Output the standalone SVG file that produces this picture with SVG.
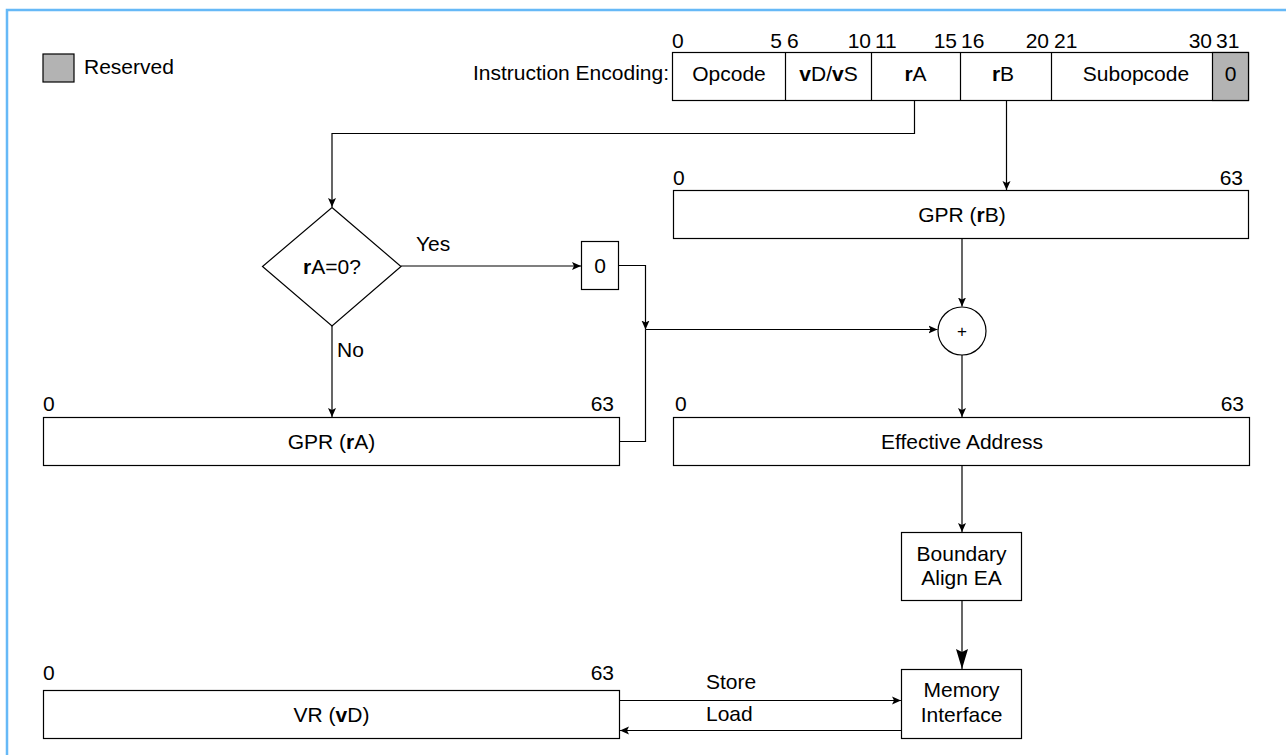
<svg xmlns="http://www.w3.org/2000/svg" width="1286" height="755" viewBox="0 0 1286 755">
<style>
text{font-family:"Liberation Sans",Arial,Helvetica,sans-serif;font-size:21px;fill:#000}
.c{text-anchor:middle}
.e{text-anchor:end}
.box{fill:#fff;stroke:#000;stroke-width:1.2}
.res{fill:#b3b3b3;stroke:#000;stroke-width:1.2}
.ln{fill:none;stroke:#000;stroke-width:1.2}
.b{font-weight:bold}
</style>
<defs>
<marker id="ah" markerWidth="10" markerHeight="10" refX="9" refY="5" orient="auto" markerUnits="userSpaceOnUse">
<path d="M0,1 L9,5 L0,9 L2,5 Z" fill="#000"/>
</marker>
<marker id="ahb" markerWidth="21" markerHeight="14" refX="20" refY="7" orient="auto" markerUnits="userSpaceOnUse" viewBox="0 0 21 14">
<path d="M0,1 L20,7 L0,13 L3,7 Z" fill="#000"/>
</marker>
</defs>
<rect width="1286" height="755" fill="#fff"/>
<path d="M7,755 V10 H1286" fill="none" stroke="#66b9f7" stroke-width="2.5"/>

<g id="legend">
<rect class="res" x="43" y="54" width="31" height="28"/>
<text x="84" y="74">Reserved</text>
</g>

<g id="encoding">
<text class="e" x="669" y="80">Instruction Encoding:</text>
<rect class="box" x="672.5" y="52.5" width="576" height="48"/>
<rect class="res" x="1212.5" y="52.5" width="36" height="48"/>
<path class="ln" d="M785.5,52.5 V100.5 M871.5,52.5 V100.5 M960.5,52.5 V100.5 M1051.5,52.5 V100.5"/>
<text x="672" y="48">0</text>
<text class="e" x="782" y="48">5</text>
<text x="787" y="48">6</text>
<text class="e" x="871" y="48">10</text>
<text x="875" y="48">11</text>
<text class="e" x="957" y="48">15</text>
<text x="961" y="48">16</text>
<text class="e" x="1049" y="48">20</text>
<text x="1054" y="48">21</text>
<text class="e" x="1212" y="48">30</text>
<text x="1216" y="48">31</text>
<text class="c" x="729" y="81">Opcode</text>
<text class="c" x="828.5" y="81"><tspan class="b">v</tspan>D/<tspan class="b">v</tspan>S</text>
<text class="c" x="915.5" y="81"><tspan class="b">r</tspan>A</text>
<text class="c" x="1003" y="81"><tspan class="b">r</tspan>B</text>
<text class="c" x="1136" y="81">Subopcode</text>
<text class="c" x="1230.5" y="81">0</text>
</g>

<g id="decision">
<path class="box" d="M332,207.5 L401,266.5 L332,326 L262.5,266.5 Z"/>
<text class="c" x="332" y="274"><tspan class="b">r</tspan>A=0?</text>
</g>

<g id="zero">
<rect class="box" x="581.5" y="241.5" width="37" height="48"/>
<text class="c" x="600" y="273">0</text>
</g>

<g id="gprb">
<rect class="box" x="673.5" y="190.5" width="575" height="48"/>
<text x="673" y="185">0</text>
<text class="e" x="1243" y="185">63</text>
<text class="c" x="962" y="222">GPR (<tspan class="b">r</tspan>B)</text>
</g>

<g id="adder">
<circle class="box" cx="962" cy="331" r="24"/>
<text class="c" x="962" y="337" style="font-size:17px">+</text>
</g>

<g id="gpra">
<rect class="box" x="43.5" y="417.5" width="576" height="48"/>
<text x="43" y="411">0</text>
<text class="e" x="614" y="411">63</text>
<text class="c" x="331.5" y="449">GPR (<tspan class="b">r</tspan>A)</text>
</g>

<g id="ea">
<rect class="box" x="673.5" y="417.5" width="576" height="48"/>
<text x="675" y="411">0</text>
<text class="e" x="1244" y="411">63</text>
<text class="c" x="962" y="449">Effective Address</text>
</g>

<g id="align">
<rect class="box" x="901.5" y="532.5" width="120" height="68"/>
<text class="c" x="961.5" y="561">Boundary</text>
<text class="c" x="961.5" y="585">Align EA</text>
</g>

<g id="memory">
<rect class="box" x="901.5" y="669.5" width="120" height="69"/>
<text class="c" x="961.5" y="697">Memory</text>
<text class="c" x="961.5" y="722">Interface</text>
</g>

<g id="vr">
<rect class="box" x="43.5" y="690.5" width="576" height="48"/>
<text x="43" y="680">0</text>
<text class="e" x="614" y="680">63</text>
<text class="c" x="331.5" y="722">VR (<tspan class="b">v</tspan>D)</text>
</g>

<g id="connectors">
<path class="ln" d="M914.5,100.5 V133.5 H332 V207" marker-end="url(#ah)"/>
<path class="ln" d="M1006.5,100.5 V190" marker-end="url(#ah)"/>
<path class="ln" d="M401,266 H581" marker-end="url(#ah)"/>
<text x="416" y="251">Yes</text>
<path class="ln" d="M332,326 V417" marker-end="url(#ah)"/>
<text x="337" y="357">No</text>
<path class="ln" d="M618.5,265.5 H645.5 V329.5" marker-end="url(#ah)"/>
<path class="ln" d="M619.5,441.5 H645.5 V329.5"/>
<path class="ln" d="M645.5,329.5 H937.5" marker-end="url(#ah)"/>
<path class="ln" d="M962,238.5 V306.5" marker-end="url(#ah)"/>
<path class="ln" d="M962,355 V417" marker-end="url(#ah)"/>
<path class="ln" d="M962,465.5 V532" marker-end="url(#ah)"/>
<path class="ln" d="M962,601 V669" marker-end="url(#ahb)"/>
<path class="ln" d="M619.5,700.5 H901" marker-end="url(#ah)"/>
<text x="706" y="689">Store</text>
<path class="ln" d="M901.5,730.5 H620" marker-end="url(#ah)"/>
<text x="706" y="721">Load</text>
</g>
</svg>
